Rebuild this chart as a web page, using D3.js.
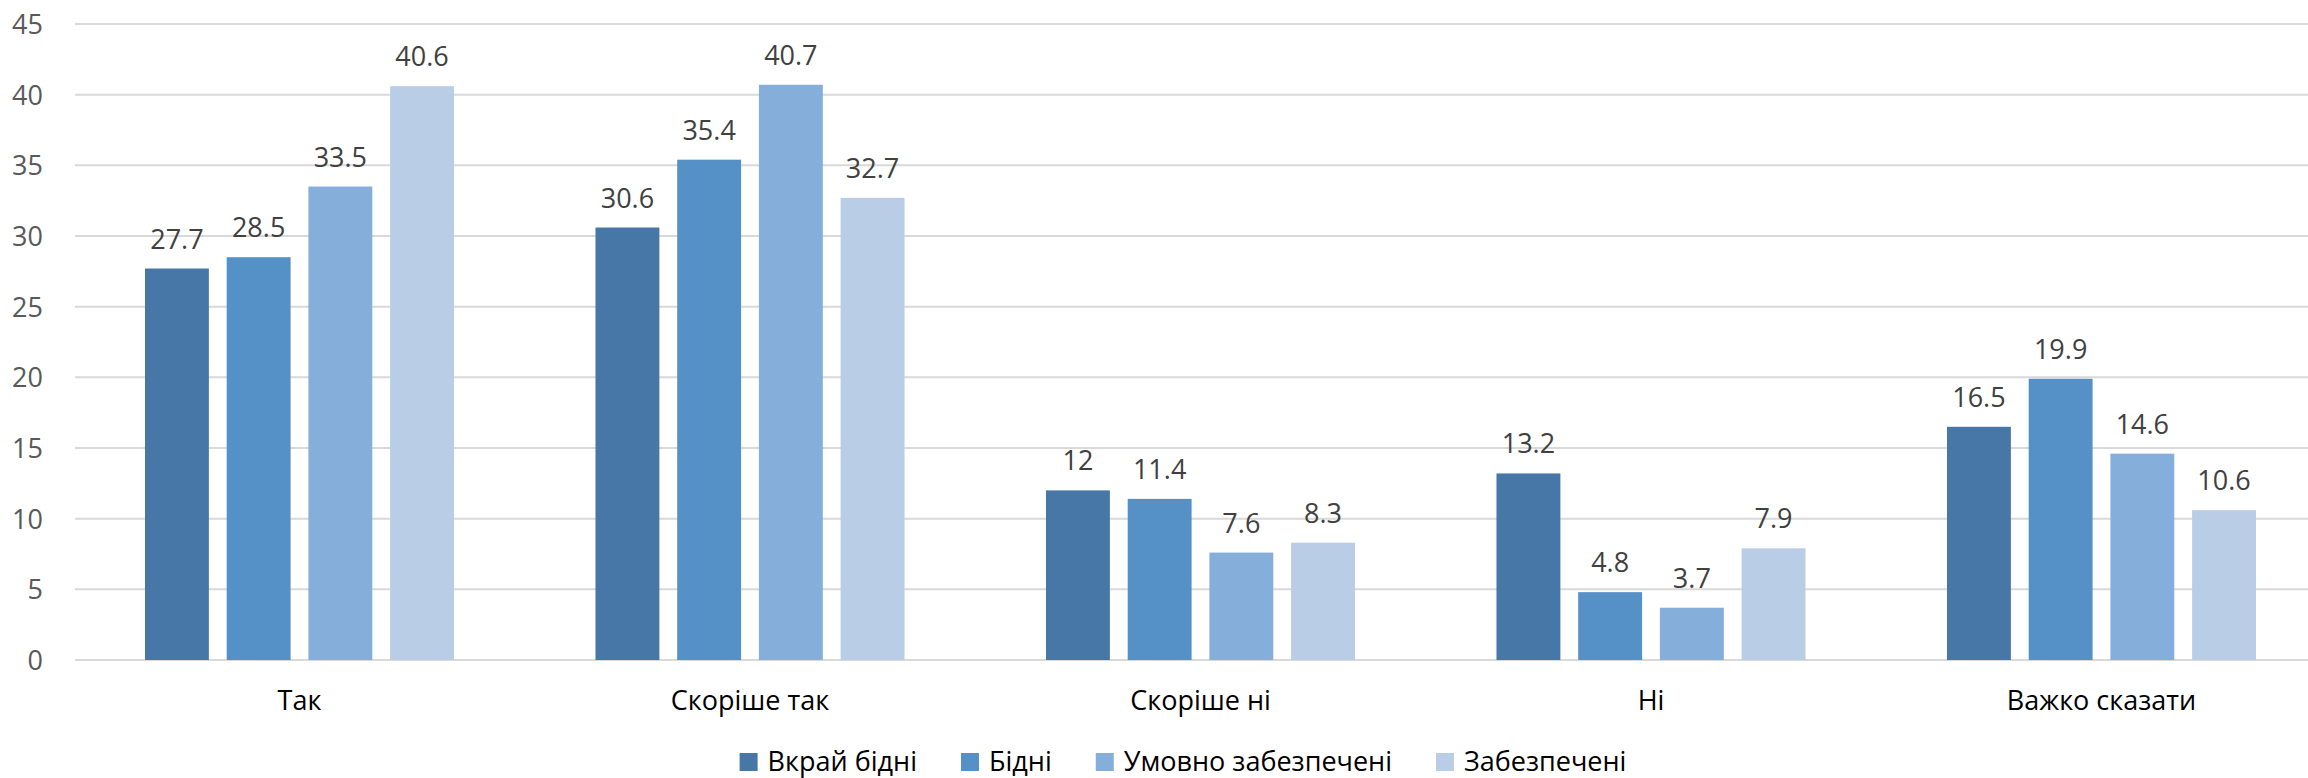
<!DOCTYPE html>
<html>
<head>
<meta charset="utf-8">
<script src="https://cdn.jsdelivr.net/npm/d3@7"></script>
<style>
  html, body { margin: 0; padding: 0; background: #fff; }
  svg { display: block; font-family: "Open Sans", "Noto Sans", sans-serif; }
</style>
</head>
<body>
<svg id="chart" width="2308" height="778"></svg>
<script>
const categories = ["Так", "Скоріше так", "Скоріше ні", "Ні", "Важко сказати"];
const seriesNames = ["Вкрай бідні", "Бідні", "Умовно забезпечені", "Забезпечені"];
const vkraiBidni = [27.7, 30.6, 12, 13.2, 16.5];
const bidni = [28.5, 35.4, 11.4, 4.8, 19.9];
const umovnoZabezpecheni = [33.5, 40.7, 7.6, 3.7, 14.6];
const zabezpecheni = [40.6, 32.7, 8.3, 7.9, 10.6];
const yTicks = [0, 5, 10, 15, 20, 25, 30, 35, 40, 45];
const colors = ["#4677A7", "#5591C6", "#86AEDA", "#B9CDE7"];

const seriesValues = [vkraiBidni, bidni, umovnoZabezpecheni, zabezpecheni];

const svg = d3.select("#chart");

const x0 = d3.scaleBand()
  .domain(categories)
  .range([74.25, 2326.75])
  .paddingInner(0.314)
  .paddingOuter(0.157);

const x1 = d3.scaleBand()
  .domain(seriesNames)
  .range([0, x0.bandwidth()])
  .paddingInner(0.218)
  .paddingOuter(0);

const y = d3.scaleLinear().domain([0, 45]).range([660, 24]);

// gridlines
svg.append("g")
  .selectAll("line")
  .data(yTicks)
  .join("line")
  .attr("x1", 75)
  .attr("x2", 2308)
  .attr("y1", d => y(d))
  .attr("y2", d => y(d))
  .attr("stroke", "#d9d9d9")
  .attr("stroke-width", 2);

// y axis labels
const yAxis = d3.axisLeft(y).tickValues(yTicks).tickSize(0).tickPadding(0);
const yg = svg.append("g").attr("transform", "translate(43,0)").call(yAxis);
yg.select(".domain").remove();
yg.selectAll("text")
  .attr("font-family", "'Open Sans', sans-serif")
  .attr("font-size", 27)
  .attr("fill", "#595959")
  .attr("dy", "0.35em");

// bars
const groups = svg.append("g")
  .selectAll("g")
  .data(categories)
  .join("g")
  .attr("transform", d => `translate(${x0(d)},0)`);

groups.selectAll("rect")
  .data((c, ci) => seriesNames.map((s, si) => ({ s, si, v: seriesValues[si][ci] })))
  .join("rect")
  .attr("x", d => x1(d.s))
  .attr("width", x1.bandwidth())
  .attr("y", d => y(d.v))
  .attr("height", d => y(0) - y(d.v))
  .attr("fill", d => colors[d.si]);

groups.selectAll("text.val")
  .data((c, ci) => seriesNames.map((s, si) => ({ s, si, v: seriesValues[si][ci] })))
  .join("text")
  .attr("class", "val")
  .attr("x", d => x1(d.s) + x1.bandwidth() / 2)
  .attr("y", d => y(d.v) - 20)
  .attr("text-anchor", "middle")
  .attr("font-size", 27)
  .attr("fill", "#404040")
  .text(d => String(d.v));

// x axis labels
const xAxis = d3.axisBottom(x0).tickSize(0).tickPadding(0);
const xg = svg.append("g").attr("transform", "translate(0,660)").call(xAxis);
xg.select(".domain").remove();
xg.selectAll("text")
  .attr("font-family", "'Open Sans', sans-serif")
  .attr("font-size", 27)
  .attr("fill", "#000")
  .attr("dy", null)
  .attr("y", 50);

// legend
const legend = svg.append("g");
const items = legend.selectAll("g")
  .data(seriesNames)
  .join("g");
items.append("rect")
  .attr("width", 18)
  .attr("height", 18)
  .attr("y", 753)
  .attr("fill", (d, i) => colors[i]);
items.append("text")
  .attr("x", 28)
  .attr("y", 771)
  .attr("font-size", 27)
  .attr("fill", "#000")
  .text(d => d);

let offs = [];
let cur = 0;
items.each(function () {
  offs.push(cur);
  const w = this.querySelector("text").getComputedTextLength();
  cur += 28 + w + 44;
});
const total = cur - 44;
const start = 1183 - total / 2;
items.attr("transform", (d, i) => `translate(${start + offs[i]},0)`);
</script>
</body>
</html>
